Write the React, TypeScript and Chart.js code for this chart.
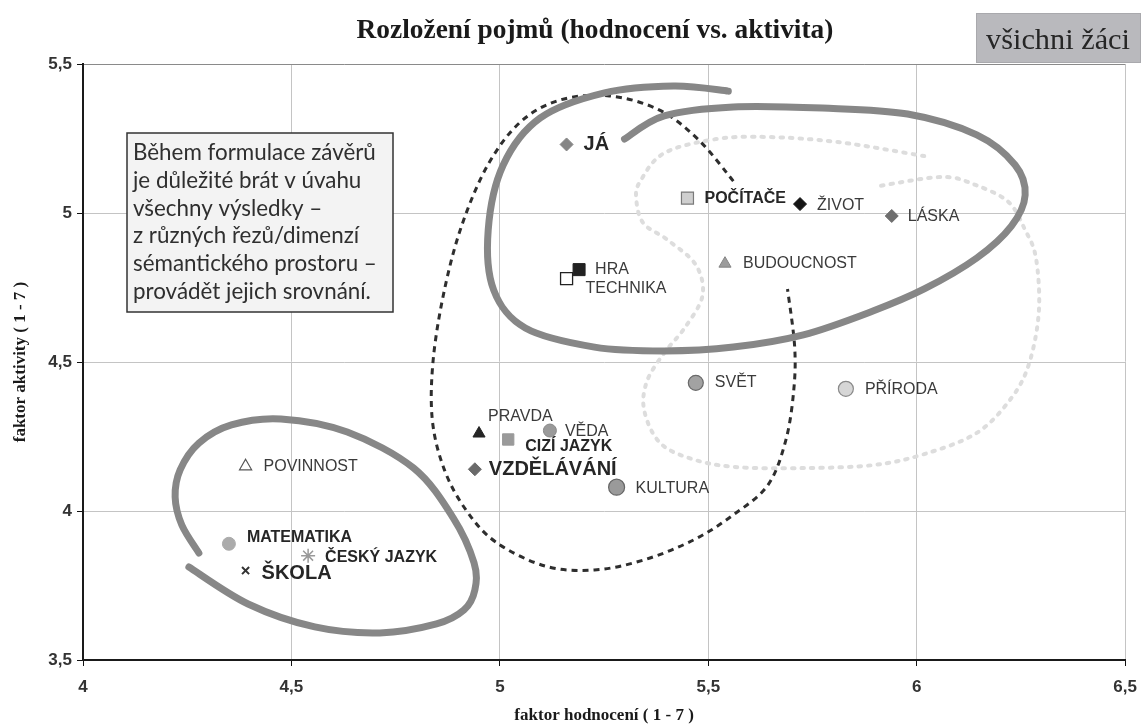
import React, { useEffect, useRef } from 'react';
import { Chart, registerables } from 'chart.js';

Chart.register(...registerables);

// ---------------- DATA ----------------
const concepts = [
  'JÁ', 'POČÍTAČE', 'ŽIVOT', 'LÁSKA', 'TECHNIKA', 'HRA', 'BUDOUCNOST', 'SVĚT', 'PŘÍRODA',
  'PRAVDA', 'CIZÍ JAZYK', 'VĚDA', 'VZDĚLÁVÁNÍ', 'KULTURA', 'POVINNOST', 'MATEMATIKA',
  'ČESKÝ JAZYK', 'ŠKOLA',
];
// faktor hodnocení (x)
const hodnoceni = [5.16, 5.45, 5.72, 5.94, 5.16, 5.19, 5.54, 5.47, 5.83, 4.95, 5.02, 5.12, 4.94, 5.28, 4.39, 4.35, 4.54, 4.39];
// faktor aktivity (y)
const aktivita = [5.23, 5.05, 5.03, 4.99, 4.78, 4.81, 4.83, 4.43, 4.41, 4.26, 4.24, 4.27, 4.14, 4.08, 4.15, 3.89, 3.85, 3.8];

const xTickValues = [4, 4.5, 5, 5.5, 6, 6.5];
const yTickValues = [3.5, 4, 4.5, 5, 5.5];

const chartTitle = 'Rozložení pojmů (hodnocení vs. aktivita)';
const xAxisTitle = 'faktor hodnocení ( 1 - 7 )';
const yAxisTitle = 'faktor aktivity ( 1 - 7 )';
const badgeText = 'všichni žáci';
const noteLines = [
  'Během formulace závěrů',
  'je důležité brát v úvahu',
  'všechny výsledky –',
  'z různých řezů/dimenzí',
  'sémantického prostoru –',
  'provádět jejich srovnání.',
];

// Hand-drawn grouping loops (in data units: [hodnocení, aktivita])
const loopSkola: [number, number][] = [
  [4.278, 3.859], [4.237, 3.953], [4.221, 4.047], [4.233, 4.138], [4.278, 4.228], [4.356, 4.289],
  [4.475, 4.309], [4.634, 4.265], [4.793, 4.144], [4.888, 3.977], [4.938, 3.826], [4.94, 3.735],
  [4.914, 3.668], [4.848, 3.621], [4.712, 3.591], [4.556, 3.611], [4.396, 3.688], [4.254, 3.812],
];
const loopTop: [number, number][] = [
  [5.299, 5.248], [5.394, 5.326], [5.56, 5.356], [5.774, 5.352], [5.978, 5.332], [6.144, 5.262],
  [6.236, 5.161], [6.26, 5.06], [6.227, 4.956], [6.144, 4.849], [6.018, 4.745], [5.895, 4.671],
  [5.728, 4.591], [5.56, 4.55], [5.394, 4.537], [5.227, 4.55], [5.061, 4.614], [4.985, 4.742],
  [4.972, 4.943], [5.008, 5.161], [5.097, 5.319], [5.251, 5.403], [5.417, 5.426], [5.548, 5.409],
];
const loopDashed: [number, number][] = [
  [5.56, 5.107], [5.477, 5.245], [5.382, 5.346], [5.263, 5.393], [5.144, 5.379], [5.049, 5.305],
  [4.971, 5.161], [4.909, 4.96], [4.867, 4.742], [4.84, 4.507], [4.838, 4.305], [4.867, 4.138],
  [4.919, 4.003], [4.99, 3.896], [5.109, 3.815], [5.227, 3.802], [5.346, 3.836], [5.465, 3.903],
  [5.56, 3.987], [5.643, 4.087], [5.686, 4.238], [5.705, 4.406], [5.707, 4.554], [5.69, 4.745],
];
const loopDotted: [number, number][] = [
  [6.018, 5.191], [5.811, 5.238], [5.643, 5.255], [5.519, 5.248], [5.394, 5.201], [5.337, 5.107],
  [5.327, 5.05], [5.344, 4.966], [5.403, 4.909], [5.47, 4.826], [5.486, 4.722], [5.443, 4.614],
  [5.394, 4.53], [5.353, 4.436], [5.346, 4.339], [5.382, 4.232], [5.453, 4.178], [5.56, 4.148],
  [5.728, 4.144], [5.895, 4.154], [6.018, 4.191], [6.144, 4.262], [6.227, 4.379], [6.27, 4.497],
  [6.293, 4.671], [6.286, 4.849], [6.26, 4.943], [6.22, 5.037], [6.141, 5.094], [6.061, 5.121],
  [5.911, 5.091],
];

// ---------------- STYLES ----------------
const markerStyles = [
  { style: 'rectRot', r: 6.5, fill: '#858585', stroke: '#858585', w: 1 }, // JÁ
  { style: 'rect', r: 8.5, fill: '#cfcfcf', stroke: '#7a7a7a', w: 1.2 }, // POČÍTAČE
  { style: 'rectRot', r: 6.5, fill: '#151515', stroke: '#151515', w: 1 }, // ŽIVOT
  { style: 'rectRot', r: 6.5, fill: '#6e6e6e', stroke: '#6e6e6e', w: 1 }, // LÁSKA
  { style: 'rect', r: 8.5, fill: '#ffffff', stroke: '#222222', w: 1.3 }, // TECHNIKA
  { style: 'rect', r: 8.5, fill: '#222222', stroke: '#222222', w: 1 }, // HRA
  { style: 'triangle', r: 7, fill: '#9c9c9c', stroke: '#858585', w: 1 }, // BUDOUCNOST
  { style: 'circle', r: 7.5, fill: '#a2a2a2', stroke: '#6a6a6a', w: 1.2 }, // SVĚT
  { style: 'circle', r: 7.5, fill: '#d6d6d6', stroke: '#8a8a8a', w: 1.2 }, // PŘÍRODA
  { style: 'triangle', r: 7, fill: '#252525', stroke: '#252525', w: 1 }, // PRAVDA
  { style: 'rect', r: 8, fill: '#9a9a9a', stroke: '#9a9a9a', w: 1 }, // CIZÍ JAZYK
  { style: 'circle', r: 6.5, fill: '#9a9a9a', stroke: '#888888', w: 1 }, // VĚDA
  { style: 'rectRot', r: 6.5, fill: '#6a6a6a', stroke: '#6a6a6a', w: 1 }, // VZDĚLÁVÁNÍ
  { style: 'circle', r: 8, fill: '#9a9a9a', stroke: '#666666', w: 1.2 }, // KULTURA
  { style: 'triangle', r: 7, fill: '#ffffff', stroke: '#555555', w: 1.2 }, // POVINNOST
  { style: 'circle', r: 6.5, fill: '#ababab', stroke: '#ababab', w: 1 }, // MATEMATIKA
  { style: 'star', r: 7, fill: '#9a9a9a', stroke: '#9a9a9a', w: 1.5 }, // ČESKÝ JAZYK
  { style: 'crossRot', r: 5, fill: '#333333', stroke: '#333333', w: 2 }, // ŠKOLA
];

const labelStyles = [
  { dx: 17, dy: 0, size: 20, bold: true }, // JÁ
  { dx: 17, dy: 0, size: 16, bold: true }, // POČÍTAČE
  { dx: 17, dy: 2, size: 16, bold: false }, // ŽIVOT
  { dx: 16, dy: 1, size: 16, bold: false }, // LÁSKA
  { dx: 19, dy: 10, size: 16, bold: false }, // TECHNIKA
  { dx: 16, dy: 0, size: 16, bold: false }, // HRA
  { dx: 18, dy: 0, size: 16, bold: false }, // BUDOUCNOST
  { dx: 19, dy: 0, size: 16, bold: false }, // SVĚT
  { dx: 19, dy: 1, size: 16, bold: false }, // PŘÍRODA
  { dx: 9, dy: -17, size: 16, bold: false }, // PRAVDA
  { dx: 17, dy: 7, size: 16, bold: true }, // CIZÍ JAZYK
  { dx: 15, dy: 1, size: 16, bold: false }, // VĚDA
  { dx: 14, dy: 0, size: 20, bold: true }, // VZDĚLÁVÁNÍ
  { dx: 19, dy: 1, size: 16, bold: false }, // KULTURA
  { dx: 18, dy: 0, size: 16, bold: false }, // POVINNOST
  { dx: 18, dy: -6, size: 16, bold: true }, // MATEMATIKA
  { dx: 17, dy: 2, size: 16, bold: true }, // ČESKÝ JAZYK
  { dx: 16, dy: 3, size: 20, bold: true }, // ŠKOLA
];

const fmt = (v: number) => String(v).replace('.', ',');

function smoothPath(ctx: CanvasRenderingContext2D, pts: { x: number; y: number }[]) {
  ctx.beginPath();
  ctx.moveTo(pts[0].x, pts[0].y);
  for (let i = 0; i < pts.length - 1; i++) {
    const p0 = pts[i - 1] || pts[i];
    const p1 = pts[i];
    const p2 = pts[i + 1];
    const p3 = pts[i + 2] || pts[i + 1];
    const c1x = p1.x + (p2.x - p0.x) / 6;
    const c1y = p1.y + (p2.y - p0.y) / 6;
    const c2x = p2.x - (p3.x - p1.x) / 6;
    const c2y = p2.y - (p3.y - p1.y) / 6;
    ctx.bezierCurveTo(c1x, c1y, c2x, c2y, p2.x, p2.y);
  }
}

function fitFont(ctx: CanvasRenderingContext2D, text: string, base: number, family: string, weight: string, target: number) {
  ctx.font = `${weight} ${base}px ${family}`;
  const w = ctx.measureText(text).width;
  return base * (target / w);
}

const overlayPlugin = {
  id: 'overlay',
  beforeDatasetsDraw(chart: any) {
    const ctx: CanvasRenderingContext2D = chart.ctx;
    const xs = chart.scales.x;
    const ys = chart.scales.y;
    const toPx = (arr: [number, number][]) => arr.map(([a, b]) => ({ x: xs.getPixelForValue(a), y: ys.getPixelForValue(b) }));
    ctx.save();
    ctx.lineCap = 'round';
    ctx.lineJoin = 'round';
    // light dotted loop
    ctx.strokeStyle = '#dddddd';
    ctx.lineWidth = 4;
    ctx.setLineDash([2.5, 7]);
    smoothPath(ctx, toPx(loopDotted));
    ctx.stroke();
    // dashed black loop
    ctx.lineCap = 'butt';
    ctx.strokeStyle = '#2e2e2e';
    ctx.lineWidth = 3;
    ctx.setLineDash([6, 5]);
    smoothPath(ctx, toPx(loopDashed));
    ctx.stroke();
    // solid gray loops
    ctx.setLineDash([]);
    ctx.lineCap = 'round';
    ctx.strokeStyle = '#878787';
    ctx.lineWidth = 7;
    smoothPath(ctx, toPx(loopTop));
    ctx.stroke();
    smoothPath(ctx, toPx(loopSkola));
    ctx.stroke();
    ctx.restore();
  },
  afterDatasetsDraw(chart: any) {
    const ctx: CanvasRenderingContext2D = chart.ctx;
    const xs = chart.scales.x;
    const ys = chart.scales.y;
    ctx.save();
    ctx.textBaseline = 'middle';
    ctx.textAlign = 'left';
    concepts.forEach((name, i) => {
      const st = labelStyles[i];
      const px = xs.getPixelForValue(hodnoceni[i]);
      const py = ys.getPixelForValue(aktivita[i]);
      ctx.font = `${st.bold ? 'bold ' : ''}${st.size}px "Liberation Sans", Arial, sans-serif`;
      ctx.fillStyle = st.bold ? '#262626' : '#3a3a3a';
      ctx.fillText(name, px + st.dx, py + st.dy);
    });
    ctx.restore();
  },
  afterDraw(chart: any) {
    const ctx: CanvasRenderingContext2D = chart.ctx;
    const area = chart.chartArea;
    ctx.save();
    // note box
    ctx.fillStyle = '#f3f3f3';
    ctx.fillRect(127, 133, 266, 179);
    ctx.strokeStyle = '#333333';
    ctx.lineWidth = 1.5;
    ctx.strokeRect(127, 133, 266, 179);
    const noteFamily = 'Lato, "Open Sans", sans-serif';
    const ns = fitFont(ctx, noteLines[0], 20, noteFamily, 'normal', 243);
    ctx.font = `normal ${ns}px ${noteFamily}`;
    ctx.fillStyle = '#2f2f2f';
    ctx.textBaseline = 'middle';
    ctx.textAlign = 'left';
    noteLines.forEach((line, i) => ctx.fillText(line, 133, 153 + i * 27.7));

    // badge
    ctx.fillStyle = '#b9b9bd';
    ctx.fillRect(976, 13, 165, 50);
    ctx.strokeStyle = '#a9a9ad';
    ctx.lineWidth = 1;
    ctx.strokeRect(976.5, 13.5, 164, 49);
    const bs = fitFont(ctx, badgeText, 24, '"Liberation Serif", serif', 'normal', 144);
    ctx.font = `normal ${bs}px "Liberation Serif", serif`;
    ctx.fillStyle = '#262626';
    ctx.textAlign = 'center';
    ctx.fillText(badgeText, 1058, 41);

    // title
    const ts = fitFont(ctx, chartTitle, 22, '"Liberation Serif", serif', 'bold', 477);
    ctx.font = `bold ${ts}px "Liberation Serif", serif`;
    ctx.fillStyle = '#1a1a1a';
    ctx.fillText(chartTitle, 595, 31);

    // axis titles
    ctx.font = 'bold 17px "Liberation Serif", serif';
    ctx.fillText(xAxisTitle, (area.left + area.right) / 2, 716);
    ctx.translate(21, (area.top + area.bottom) / 2);
    ctx.rotate(-Math.PI / 2);
    ctx.fillText(yAxisTitle, 0, 0);
    ctx.restore();
  },
};

export default function App() {
  const ref = useRef<HTMLCanvasElement | null>(null);
  useEffect(() => {
    document.body.style.margin = '0';
    const canvas = ref.current!;
    const chart = new Chart(canvas, {
      type: 'scatter',
      data: {
        datasets: [
          {
            label: 'pojmy',
            data: concepts.map((_, i) => ({ x: hodnoceni[i], y: aktivita[i] })),
            pointStyle: markerStyles.map((m) => m.style) as any,
            pointRadius: markerStyles.map((m) => m.r),
            pointBackgroundColor: markerStyles.map((m) => m.fill),
            pointBorderColor: markerStyles.map((m) => m.stroke),
            pointBorderWidth: markerStyles.map((m) => m.w),
            showLine: false,
          },
        ],
      },
      options: {
        animation: false,
        responsive: false,
        devicePixelRatio: 1,
        layout: { padding: { top: 64, right: 12, left: 0, bottom: 0 } },
        plugins: { legend: { display: false }, tooltip: { enabled: false }, title: { display: false } },
        scales: {
          x: {
            type: 'linear',
            min: 4,
            max: 6.5,
            afterBuildTicks: (scale: any) => {
              scale.ticks = xTickValues.map((v) => ({ value: v }));
            },
            afterFit: (scale: any) => {
              scale.height = 65;
            },
            ticks: {
              callback: (v: any) => fmt(Number(v)),
              color: '#333333',
              padding: 11,
              maxRotation: 0,
              font: { family: '"Liberation Sans", Arial, sans-serif', size: 17, weight: 'bold' },
            },
            grid: {
              color: '#c4c4c4',
              lineWidth: 1,
              tickLength: 6,
              tickColor: '#111111',
            },
            border: { color: '#1a1a1a', width: 2 },
          },
          y: {
            type: 'linear',
            min: 3.5,
            max: 5.5,
            afterBuildTicks: (scale: any) => {
              scale.ticks = yTickValues.map((v) => ({ value: v }));
            },
            afterFit: (scale: any) => {
              scale.width = 83;
            },
            ticks: {
              callback: (v: any) => fmt(Number(v)),
              color: '#333333',
              padding: 5,
              font: { family: '"Liberation Sans", Arial, sans-serif', size: 17, weight: 'bold' },
            },
            grid: {
              color: (c: any) => (c.tick && c.tick.value === 5.5 ? '#8a8a8a' : '#c4c4c4'),
              lineWidth: 1,
              tickLength: 6,
              tickColor: '#111111',
            },
            border: { color: '#1a1a1a', width: 2 },
          },
        },
      },
      plugins: [overlayPlugin],
    });
    return () => chart.destroy();
  }, []);
  return (
    <div style={{ position: 'absolute', left: 0, top: 0, width: 1148, height: 725, background: '#fff' }}>
      <canvas ref={ref} width={1148} height={725} style={{ display: 'block', width: 1148, height: 725 }} />
    </div>
  );
}
